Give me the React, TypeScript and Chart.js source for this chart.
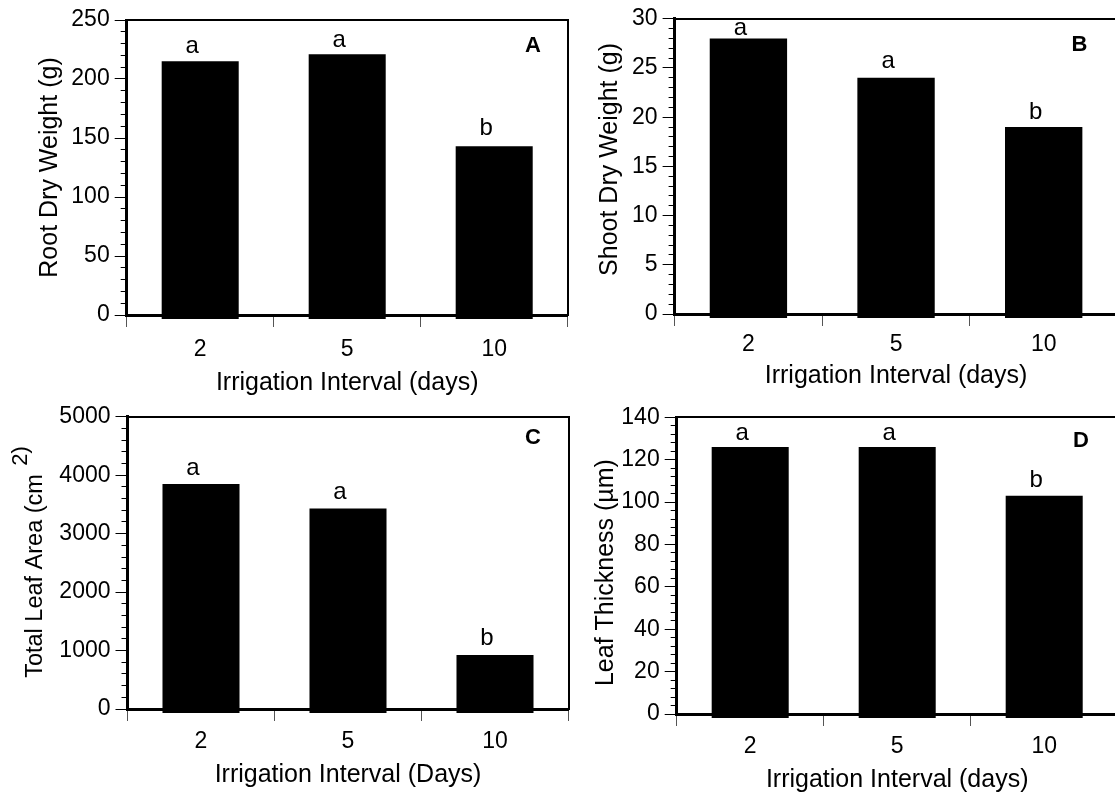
import React, { useEffect, useRef } from 'react';
import { Chart, registerables } from 'chart.js';

Chart.register(...registerables);

const FONT = "'Liberation Sans', Arial, Helvetica, sans-serif";
Chart.defaults.font.family = FONT;
Chart.defaults.color = '#000';

// ---- data ----
const categories = ['2', '5', '10'];
const rootDryWeight = [215, 221, 143];
const shootDryWeight = [28, 24, 19];
const totalLeafArea = [3850, 3430, 925];
const leafThickness = [126, 126, 103];
const significance = ['a', 'a', 'b'];

const yMaxValues = [250, 30, 5000, 140];
const yMajorSteps = [50, 5, 1000, 20];
const yMinorSteps = [10, 1, 200, 4];

const panelLetters = ['A', 'B', 'C', 'D'];
const yTitles = ['Root Dry Weight (g)', '  Shoot Dry Weight (g)', 'Total Leaf Area (cm    ', 'Leaf Thickness (\u00b5m)  '];
const xTitles = ['Irrigation Interval (days)', 'Irrigation Interval (days)', 'Irrigation Interval (Days)', 'Irrigation Interval (days)'];

// ---- layout / style per panel ----
type Spec = {
  values: number[];
  max: number; step: number; minor: number;
  letter: string; yTitle: string; xTitle: string;
  left: number; top: number; w: number; h: number;
  yWidth: number; padTop: number; padRight: number; xHeight: number;
  xTickPad: number; xTitlePad: number; yTitlePad: number; yTitleSize: number;
  letterDx: number; letterDy: number; basePx: number; gaps: number[]; sup?: boolean;
};

const layouts = [
  { left: 0, top: 0, w: 575, h: 398, yWidth: 126.7, padTop: 20, padRight: 7.3, xHeight: 83, xTickPad: 8.8, xTitlePad: 0, yTitlePad: 35.2, yTitleSize: 25, letterDx: 34.7, letterDy: 26, gaps: [8, 7, 11] },
  { left: 555, top: 0, w: 570, h: 398, yWidth: 119.6, padTop: 17.3, padRight: 7.5, xHeight: 84, xTickPad: 5, xTitlePad: 7.1, yTitlePad: 40.6, yTitleSize: 25, letterDx: 38, letterDy: 26.2, gaps: [3, 10, 8] },
  { left: 0, top: 398, w: 575, h: 398, yWidth: 127.5, padTop: 15.3, padRight: 6.5, xHeight: 87, xTickPad: 6.6, xTitlePad: 6.1, yTitlePad: 21.5, yTitleSize: 23.5, letterDx: 35.5, letterDy: 20.7, gaps: [9, 10, 10], sup: true },
  { left: 555, top: 398, w: 570, h: 398, yWidth: 121.7, padTop: 19.3, padRight: 7.3, xHeight: 82, xTickPad: 6.6, xTitlePad: 0.8, yTitlePad: 36.2, yTitleSize: 25, letterDx: 36.7, letterDy: 23.7, gaps: [7, 7, 9] },
];

const seriesList = [rootDryWeight, shootDryWeight, totalLeafArea, leafThickness];

const specs: Spec[] = layouts.map((l, i) => ({
  ...l,
  values: seriesList[i],
  max: yMaxValues[i],
  step: yMajorSteps[i],
  minor: yMinorSteps[i],
  letter: panelLetters[i],
  yTitle: yTitles[i],
  xTitle: xTitles[i],
  basePx: 4,
}));

function buildConfig(spec: Spec): any {
  const tickFont = { family: FONT, size: 23 };
  const titleFont = { family: FONT, size: 25 };
  const plotHeight = spec.h - spec.padTop - spec.xHeight;
  const baseValue = -(spec.basePx * spec.max) / plotHeight;

  const annotate = {
    id: 'annotate',
    afterDatasetsDraw(chart: any) {
      const ctx = chart.ctx;
      const meta = chart.getDatasetMeta(0);
      ctx.save();
      ctx.fillStyle = '#000';
      ctx.font = `24px ${FONT}`;
      ctx.textAlign = 'center';
      ctx.textBaseline = 'alphabetic';
      meta.data.forEach((bar: any, i: number) => {
        const p = bar.getProps(['x', 'y'], true);
        ctx.fillText(significance[i], p.x - 8, p.y - spec.gaps[i]);
      });
      const ca = chart.chartArea;
      ctx.font = `bold 22px ${FONT}`;
      ctx.textBaseline = 'middle';
      ctx.fillText(spec.letter, ca.right - spec.letterDx, ca.top + spec.letterDy);
      if (spec.sup) {
        ctx.font = `22px ${FONT}`;
        ctx.translate(20.8, ca.top + 39.2);
        ctx.rotate(-Math.PI / 2);
        ctx.fillText('2)', 0, 0);
      }
      ctx.restore();
    },
  };

  return {
    type: 'bar',
    data: {
      labels: categories,
      datasets: [
        {
          data: spec.values,
          backgroundColor: '#000',
          borderWidth: 0,
          base: baseValue,
          clip: false,
          categoryPercentage: 1,
          barPercentage: 0.524,
          xAxisID: 'x',
          yAxisID: 'y',
        },
      ],
    },
    options: {
      animation: false,
      responsive: false,
      maintainAspectRatio: false,
      events: [],
      layout: { padding: { left: 0, top: spec.padTop, right: spec.padRight, bottom: 0 } },
      plugins: { legend: { display: false }, tooltip: { enabled: false }, title: { display: false } },
      scales: {
        x: {
          type: 'category',
          position: 'bottom',
          offset: true,
          grid: { offset: true, drawOnChartArea: false, drawTicks: true, tickLength: 12, tickColor: '#555', tickWidth: 1 },
          border: { display: true, color: '#000', width: 3 },
          ticks: { font: tickFont, color: '#000', padding: spec.xTickPad, maxRotation: 0, autoSkip: false },
          title: { display: true, text: spec.xTitle, font: titleFont, color: '#000', padding: { top: 0, bottom: spec.xTitlePad } },
          afterFit: (s: any) => { s.height = spec.xHeight; },
        },
        xTop: {
          type: 'category',
          position: 'top',
          offset: true,
          grid: { display: true, drawOnChartArea: false, drawTicks: false },
          border: { display: true, color: '#000', width: 2 },
          ticks: { display: false },
          afterFit: (s: any) => { s.height = 0; },
        },
        y: {
          type: 'linear',
          position: 'left',
          weight: 1,
          min: 0,
          max: spec.max,
          grid: { drawOnChartArea: false, drawTicks: true, tickLength: 12, tickColor: '#000', tickWidth: 1 },
          border: { display: true, color: '#000', width: 3 },
          ticks: { stepSize: spec.step, font: tickFont, color: '#000', padding: 5, autoSkip: false, callback: (v: any) => String(v) },
          title: { display: true, text: spec.yTitle, font: { family: FONT, size: spec.yTitleSize }, color: '#000', padding: { top: spec.yTitlePad, bottom: 0 } },
          afterFit: (s: any) => { s.width = spec.yWidth; },
        },
        yMinor: {
          type: 'linear',
          position: 'left',
          weight: 0,
          min: 0,
          max: spec.max,
          grid: { drawOnChartArea: false, drawTicks: true, tickLength: 6, tickColor: '#000', tickWidth: 1 },
          border: { display: false },
          ticks: { display: false, stepSize: spec.minor, autoSkip: false },
          afterFit: (s: any) => { s.width = 0; },
        },
        yRight: {
          type: 'linear',
          position: 'right',
          min: 0,
          max: spec.max,
          grid: { display: true, drawOnChartArea: false, drawTicks: false },
          border: { display: true, color: '#000', width: 2 },
          ticks: { display: false },
          afterFit: (s: any) => { s.width = 0; },
        },
      },
    },
    plugins: [annotate],
  };
}

function Panel({ spec }: { spec: Spec }) {
  const ref = useRef<HTMLCanvasElement | null>(null);
  useEffect(() => {
    if (!ref.current) return;
    const chart = new Chart(ref.current, buildConfig(spec));
    return () => chart.destroy();
  }, [spec]);
  return (
    <div style={{ position: 'absolute', left: spec.left, top: spec.top, width: spec.w, height: spec.h }}>
      <canvas ref={ref} width={spec.w} height={spec.h} style={{ display: 'block', width: spec.w, height: spec.h }} />
    </div>
  );
}

export default function App() {
  return (
    <div style={{ position: 'absolute', left: 0, top: 0, width: 1115, height: 796, overflow: 'hidden', background: '#fff' }}>
      {specs.map((s, i) => (
        <Panel key={i} spec={s} />
      ))}
    </div>
  );
}
